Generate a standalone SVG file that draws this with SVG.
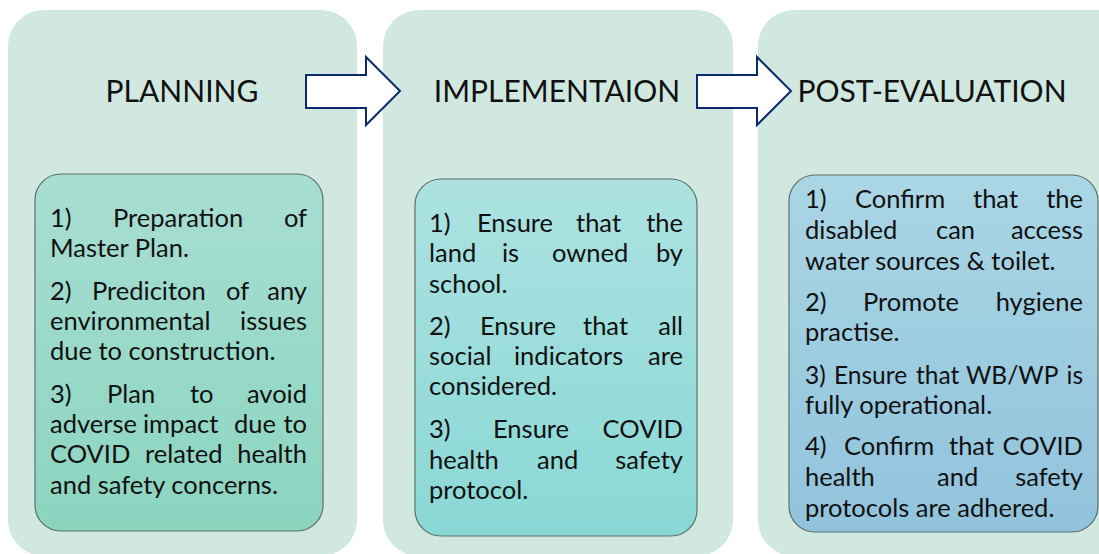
<svg xmlns="http://www.w3.org/2000/svg" width="1099" height="554" viewBox="0 0 1099 554">
  <defs>
    <linearGradient id="g1" x1="0" y1="0" x2="0" y2="1">
      <stop offset="0" stop-color="#a8ded2"/>
      <stop offset="1" stop-color="#8bd5bf"/>
    </linearGradient>
    <linearGradient id="g2" x1="0" y1="0" x2="0" y2="1">
      <stop offset="0" stop-color="#ace2e1"/>
      <stop offset="1" stop-color="#89d8d5"/>
    </linearGradient>
    <linearGradient id="g3" x1="0" y1="0" x2="0" y2="1">
      <stop offset="0" stop-color="#aad6e5"/>
      <stop offset="1" stop-color="#91c3dc"/>
    </linearGradient>
    <style>
      .panel { fill: #d0e8e0; }
      .box { stroke: #5f6f6b; stroke-width: 1.2; }
      .title { font-family: Lato, "Open Sans", sans-serif; font-size: 30px; fill: #111; }
      .body { font-family: Lato, "Open Sans", sans-serif; font-size: 25.5px; fill: #111; }
      .tight { font-size: 24.5px; }
      .arrow { fill: #ffffff; stroke: #0c2a6b; stroke-width: 2; stroke-linejoin: miter; }
    </style>
  </defs>

  <rect width="1099" height="554" fill="#ffffff"/>

  <!-- Planning stage -->
  <g id="planning">
    <rect class="panel" x="8" y="10" width="349" height="546" rx="36"/>
    <text class="title" x="182" y="102" text-anchor="middle">PLANNING</text>
    <rect class="box" x="35" y="174" width="288" height="357" rx="26" fill="url(#g1)"/>
    <g class="body">
      <text y="227"><tspan x="50">1)</tspan><tspan x="113">Preparation</tspan></text>
      <text x="307" y="227" text-anchor="end">of</text>
      <text x="50" y="257">Master Plan.</text>
      <text y="300"><tspan x="50">2)</tspan><tspan x="92">Prediciton</tspan><tspan x="226">of</tspan></text>
      <text x="307" y="300" text-anchor="end">any</text>
      <text x="50" y="330">environmental</text>
      <text x="307" y="330" text-anchor="end">issues</text>
      <text x="50" y="360">due to construction.</text>
      <text y="403"><tspan x="50">3)</tspan><tspan x="107">Plan</tspan><tspan x="190">to</tspan></text>
      <text x="307" y="403" text-anchor="end">avoid</text>
      <text y="433"><tspan x="50">adverse</tspan><tspan x="143">impact</tspan><tspan x="234">due</tspan></text>
      <text x="307" y="433" text-anchor="end">to</text>
      <text y="463"><tspan x="50">COVID</tspan><tspan x="145">related</tspan></text>
      <text x="307" y="463" text-anchor="end">health</text>
      <text x="50" y="494">and safety concerns.</text>
    </g>
  </g>

  <!-- Implementation stage -->
  <g id="implementation">
    <rect class="panel" x="383" y="10" width="350" height="546" rx="36"/>
    <text class="title" x="557" y="102" text-anchor="middle">IMPLEMENTAION</text>
    <rect class="box" x="415" y="179" width="282" height="357" rx="26" fill="url(#g2)"/>
    <g class="body">
      <text y="232"><tspan x="429">1)</tspan><tspan x="477">Ensure</tspan><tspan x="576">that</tspan></text>
      <text x="683" y="232" text-anchor="end">the</text>
      <text y="262"><tspan x="429">land</tspan><tspan x="502">is</tspan><tspan x="552">owned</tspan></text>
      <text x="683" y="262" text-anchor="end">by</text>
      <text x="429" y="293">school.</text>
      <text y="335"><tspan x="429">2)</tspan><tspan x="480">Ensure</tspan><tspan x="583">that</tspan></text>
      <text x="683" y="335" text-anchor="end">all</text>
      <text y="365"><tspan x="429">social</tspan><tspan x="514">indicators</tspan></text>
      <text x="683" y="365" text-anchor="end">are</text>
      <text x="429" y="395">considered.</text>
      <text y="438"><tspan x="429">3)</tspan><tspan x="493">Ensure</tspan></text>
      <text x="683" y="438" text-anchor="end">COVID</text>
      <text y="469"><tspan x="429">health</tspan><tspan x="537">and</tspan></text>
      <text x="683" y="469" text-anchor="end">safety</text>
      <text x="429" y="499">protocol.</text>
    </g>
  </g>

  <!-- Post-evaluation stage -->
  <g id="post-evaluation">
    <rect class="panel" x="758" y="10" width="380" height="546" rx="36"/>
    <text class="title" x="932" y="102" text-anchor="middle">POST-EVALUATION</text>
    <rect class="box" x="789" y="175" width="309" height="357" rx="26" fill="url(#g3)"/>
    <g class="body">
      <text y="208"><tspan x="805">1)</tspan><tspan x="855">Confirm</tspan><tspan x="973">that</tspan></text>
      <text x="1083" y="208" text-anchor="end">the</text>
      <text y="239"><tspan x="805">disabled</tspan><tspan x="936">can</tspan></text>
      <text x="1083" y="239" text-anchor="end">access</text>
      <text x="805" y="270">water sources &amp; toilet.</text>
      <text y="311"><tspan x="805">2)</tspan><tspan x="863">Promote</tspan></text>
      <text x="1083" y="311" text-anchor="end">hygiene</text>
      <text x="805" y="341">practise.</text>
      <text class="tight" y="384"><tspan x="805">3)</tspan><tspan x="834">Ensure</tspan><tspan x="916">that</tspan><tspan x="966">WB/WP</tspan></text>
      <text class="tight" x="1083" y="384" text-anchor="end">is</text>
      <text x="805" y="414">fully operational.</text>
      <text y="455"><tspan x="805">4)</tspan><tspan x="844">Confirm</tspan><tspan x="949">that</tspan></text>
      <text x="1083" y="455" text-anchor="end">COVID</text>
      <text y="486"><tspan x="805">health</tspan><tspan x="937">and</tspan></text>
      <text x="1083" y="486" text-anchor="end">safety</text>
      <text x="805" y="517">protocols are adhered.</text>
    </g>
  </g>

  <!-- Block arrows between stages -->
  <g id="connectors">
    <polygon class="arrow" points="306,75 366,75 366,57 400,91 366,125 366,108 306,108"/>
    <polygon class="arrow" points="697,75 757,75 757,57 791,91 757,125 757,108 697,108"/>
  </g>
</svg>
